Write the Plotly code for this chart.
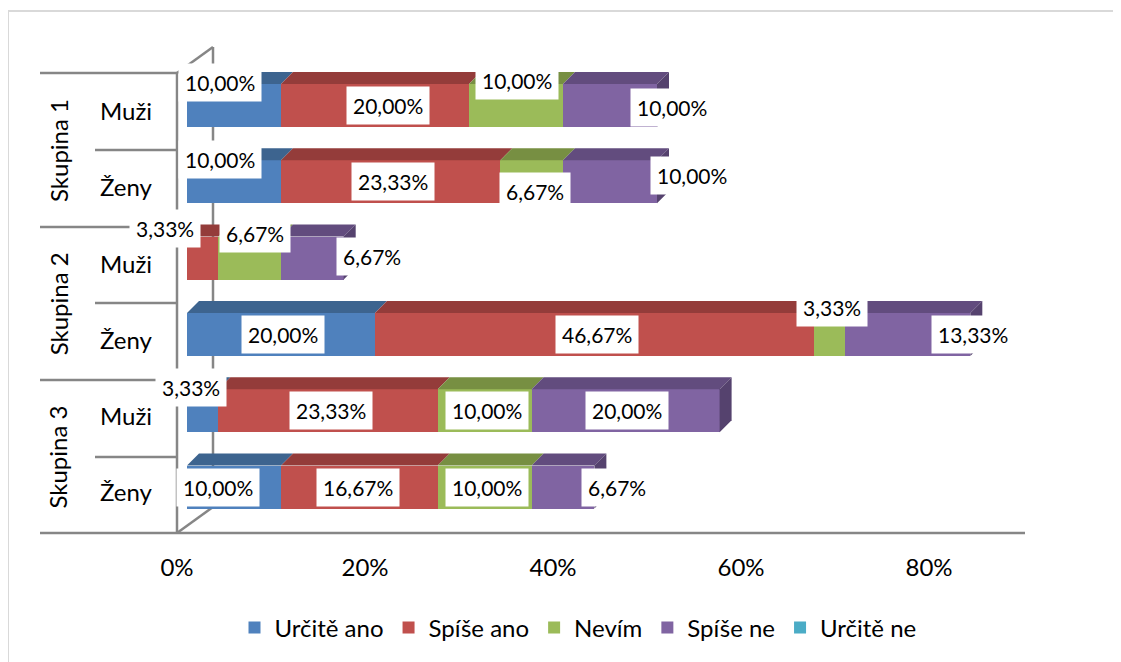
import plotly.graph_objects as go

# ---------------- data ----------------
rows = ["Muži", "Ženy", "Muži", "Ženy", "Muži", "Ženy"]
groups = ["Skupina 1", "Skupina 2", "Skupina 3"]
series_names = ["Určitě ano", "Spíše ano", "Nevím", "Spíše ne", "Určitě ne"]

urcite_ano = [10.00, 10.00, 0.00, 20.00, 3.33, 10.00]
spise_ano = [20.00, 23.33, 3.33, 46.67, 23.33, 16.67]
nevim = [10.00, 6.67, 6.67, 3.33, 10.00, 10.00]
spise_ne = [10.00, 10.00, 6.67, 13.33, 20.00, 6.67]
urcite_ne = [0.00, 0.00, 0.00, 0.00, 0.00, 0.00]

x_ticks = [0, 20, 40, 60, 80]
x_tick_labels = ["0%", "20%", "40%", "60%", "80%"]

# ---------------- styles ----------------
colors = ["#4F81BD", "#C0504D", "#9BBB59", "#8064A2", "#4BACC6"]
top_colors = ["#3D648F", "#943C3A", "#778F42", "#624C7E", "#3A879B"]
side_colors = ["#34577D", "#813432", "#677C39", "#55426E", "#317585"]
FONT = "Lato"
AXIS_GRAY = "#868686"

# label nudges in pixels (dx right, dy down) per series / row (Excel 3D label placement)
label_nudge = [
    [(-14, -23), (-14, -22), (0, 0), (2, 0), (-12, -23), (-16, 0)],
    [(13, 0), (2, 0), (-38, -30), (3, 0), (3, 0), (-1, 0)],
    [(1, -25), (3, 10), (5, -25), (3, -27), (2, 0), (2, 0)],
    [(62, 2), (82, -6), (60, -2), (65, 0), (1, 0), (54, 0)],
    [(0, 0)] * 6,
]

# ---------------- pixel geometry (page pixels) ----------------
W, H = 1121, 662
PAGE_OFF = 8                             # default body margin of the html page
L, R, T, B = 177, 1025, 47, 533          # plot area in px
X0PX, XSCALE = 187.0, 9.4                # px of value 0, px per 1 %
Y0PX, YSCALE = 105.5, 76.3               # px of row 0 centre, px per row
BAR_W = 43 / YSCALE
DEPTH_X, DEPTH_Y = 12 / XSCALE, 12 / YSCALE


def xd(px):
    return (px - X0PX) / XSCALE


def yd(py):
    return (py - Y0PX) / YSCALE


def xp(px):
    return (px - L) / (R - L)


def yp(py):
    return (B - py) / (B - T)


all_series = [urcite_ano, spise_ano, nevim, spise_ne, urcite_ne]
ypos = list(range(len(rows)))

fig = go.Figure()
for name, vals, col in zip(series_names, all_series, colors):
    fig.add_trace(go.Bar(
        y=ypos, x=vals, orientation="h", name=name,
        marker=dict(color=col, line=dict(width=0)),
        width=BAR_W, hoverinfo="skip",
    ))

shapes = []
annotations = []

# 3D faces and data labels
for i in ypos:
    cum = 0.0
    last = None
    yT = i - BAR_W / 2
    yB = i + BAR_W / 2
    for s, vals in enumerate(all_series):
        v = vals[i]
        if v <= 0:
            continue
        x0, x1 = cum, cum + v
        shapes.append(dict(
            type="path", xref="x", yref="y", layer="above",
            path=f"M {x0},{yT} L {x1},{yT} L {x1 + DEPTH_X},{yT - DEPTH_Y} L {x0 + DEPTH_X},{yT - DEPTH_Y} Z",
            fillcolor=top_colors[s], line=dict(width=0),
        ))
        dx, dy = label_nudge[s][i]
        annotations.append(dict(
            x=(x0 + x1) / 2, y=i, xref="x", yref="y",
            xanchor="center", yanchor="middle",
            text=f"{v:.2f}%".replace(".", ","), showarrow=False,
            xshift=dx, yshift=-dy, bgcolor="white", borderpad=6,
            font=dict(family=FONT, size=21, color="black"),
        ))
        last = (s, x1)
        cum = x1
    if last:
        s, x1 = last
        shapes.append(dict(
            type="path", xref="x", yref="y", layer="above",
            path=f"M {x1},{yT} L {x1 + DEPTH_X},{yT - DEPTH_Y} L {x1 + DEPTH_X},{yB - DEPTH_Y} L {x1},{yB} Z",
            fillcolor=side_colors[s], line=dict(width=0),
        ))

# walls / axis lines (paper coords)
def line(px0, py0, px1, py1, layer="below", color=AXIS_GRAY, width=2.5):
    shapes.append(dict(type="line", xref="paper", yref="paper", layer=layer,
                       x0=xp(px0), y0=yp(py0), x1=xp(px1), y1=yp(py1),
                       line=dict(color=color, width=width)))

line(213, 47, 213, 507)
line(177, 73, 213, 47)
line(177, 533, 213, 507)
line(177, 73, 177, 533)
line(177, 533, 1025, 533)
for k, py in enumerate([73, 150, 227, 303, 380, 457, 533]):
    line(40 if k % 2 == 0 else 95, py, 177, py)

# chart border
shapes.append(dict(type="rect", xref="paper", yref="paper", layer="below",
                   x0=xp(8), y0=yp(675), x1=xp(1135), y1=yp(11),
                   line=dict(color="#D9D9D9", width=2), fillcolor="rgba(0,0,0,0)"))

# group labels
for g, name in enumerate(groups):
    annotations.append(dict(
        x=xp(58), y=yp(150 + 153.3 * g), xref="paper", yref="paper",
        xanchor="center", yanchor="middle",
        text=name, textangle=-90, showarrow=False,
        font=dict(family=FONT, size=24, color="black"),
    ))

fig.update_layout(
    width=W, height=H,
    margin=dict(l=L - PAGE_OFF, r=W - (R - PAGE_OFF), t=T - PAGE_OFF, b=H - (B - PAGE_OFF)),
    paper_bgcolor="white", plot_bgcolor="white",
    barmode="stack", bargap=0,
    font=dict(family=FONT, size=24, color="black"),
    shapes=shapes, annotations=annotations,
    legend=dict(orientation="h", x=xp(578), xanchor="center", y=yp(628), yanchor="middle",
                font=dict(family=FONT, size=24), traceorder="normal"),
    xaxis=dict(range=[xd(L), xd(R)], tickvals=x_ticks, ticktext=x_tick_labels,
               showgrid=False, zeroline=False, showline=False, ticks="",
               ticklabelshift=-10, ticklabelstandoff=18,
               tickfont=dict(family=FONT, size=24)),
    yaxis=dict(range=[yd(B), yd(T)], tickvals=[i + 6 / YSCALE for i in ypos], ticktext=rows,
               showgrid=False, zeroline=False, showline=False, ticks="",
               ticklabelstandoff=24, tickfont=dict(family=FONT, size=24)),
)

fig.write_html("out.html")
